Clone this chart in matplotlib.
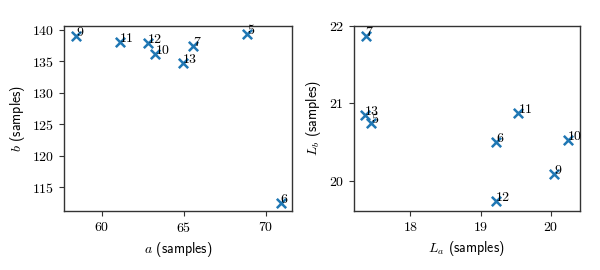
import matplotlib
matplotlib.use("Agg")
import matplotlib.pyplot as plt

plt.rcParams['font.family'] = 'serif'
plt.rcParams['font.serif'] = ['cmr10']
plt.rcParams['mathtext.fontset'] = 'cm'
plt.rcParams['axes.formatter.use_mathtext'] = True
plt.rcParams['font.size'] = 10

# Left panel data
labels_ab = ['9', '11', '12', '10', '13', '7', '5', '6']
a_vals = [58.43, 61.12, 62.84, 63.27, 64.94, 65.55, 68.88, 70.90]
b_vals = [139.09, 138.04, 137.88, 136.18, 134.75, 137.50, 139.30, 112.50]

# Right panel data
labels_L = ['7', '13', '5', '6', '11', '10', '9', '12']
La_vals = [17.36, 17.35, 17.44, 19.22, 19.54, 20.25, 20.05, 19.22]
Lb_vals = [21.87, 20.85, 20.75, 20.50, 20.88, 20.53, 20.09, 19.74]

fig = plt.figure(figsize=(6, 2.7), dpi=100)
W, H = 600, 270
ax1 = fig.add_axes([64.3/W, (H-211)/H, (291.7-64.3)/W, (211-25.7)/H])
ax2 = fig.add_axes([353.7/W, (H-211)/H, (580-353.7)/W, (211-25.7)/H])

for ax, xs, ys, labs in [(ax1, a_vals, b_vals, labels_ab), (ax2, La_vals, Lb_vals, labels_L)]:
    ax.scatter(xs, ys, marker='x', s=45, linewidths=1.8, color='#1f77b4', zorder=3)
    for x, y, l in zip(xs, ys, labs):
        ax.text(x, y, l, fontsize=10)
    for side in ['top', 'right']:
        ax.spines[side].set_visible(True)
    for sp in ax.spines.values():
        sp.set_color('#333333')
        sp.set_linewidth(1.0)
    ax.tick_params(direction='out', length=3.5, width=0.8, colors='#333333', labelcolor='black')

ax1.set_xlim(57.72, 71.58)
ax1.set_ylim(111.18, 140.68)
ax1.set_xticks([60, 65, 70])
ax1.set_yticks([115, 120, 125, 130, 135, 140])

ax2.set_xlim(17.19, 20.42)
ax2.set_ylim(19.61, 22.0)
ax2.set_xticks([18, 19, 20])
ax2.set_yticks([20, 21, 22])

ax1.set_xlabel(r'$a$ (samples)', fontfamily='cmss10')
ax1.set_ylabel(r'$b$ (samples)', fontfamily='cmss10')
ax2.set_xlabel(r'$L_a$ (samples)', fontfamily='cmss10')
ax2.set_ylabel(r'$L_b$ (samples)', fontfamily='cmss10')

fig.savefig('out.png', dpi=100)
